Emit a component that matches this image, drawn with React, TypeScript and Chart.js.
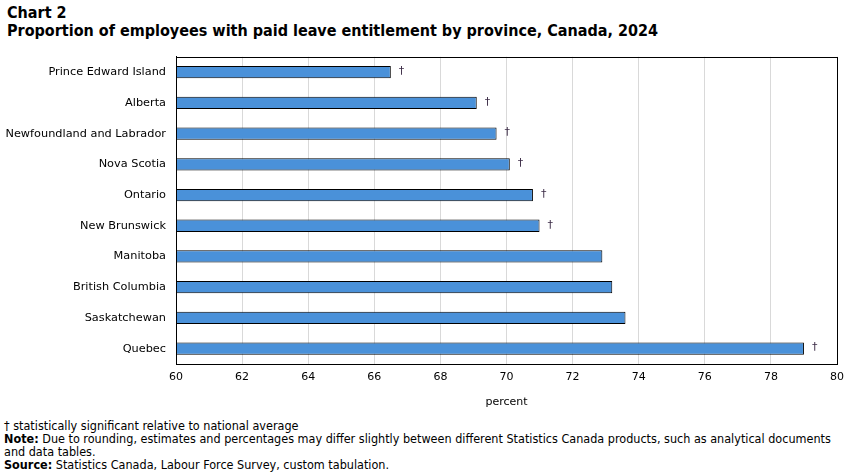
import React, { useEffect, useRef } from "react";
import { Chart, registerables } from "chart.js";

Chart.register(...registerables);

const provinces = [
  "Prince Edward Island",
  "Alberta",
  "Newfoundland and Labrador",
  "Nova Scotia",
  "Ontario",
  "New Brunswick",
  "Manitoba",
  "British Columbia",
  "Saskatchewan",
  "Quebec",
];
const shares = [66.5, 69.1, 69.7, 70.1, 70.8, 71.0, 72.9, 73.2, 73.6, 79.0];
const significant = [true, true, true, true, true, true, false, false, false, true];

const xMin = 60;
const xMax = 80;
const xStep = 2;
const xTitle = "percent";

const labelFont = "'DejaVu Sans', Verdana, sans-serif";
const noteFont = "'DejaVu Sans Condensed', Tahoma, sans-serif";

// Dagger marker after each statistically significant bar, the black frame and the axis title.
const markersPlugin = {
  id: "markers",
  afterDatasetsDraw(chart: any) {
    const { ctx, chartArea } = chart;
    const meta = chart.getDatasetMeta(0);
    ctx.save();
    ctx.font = "11px " + labelFont;
    ctx.fillStyle = "#3a2a45";
    ctx.textAlign = "left";
    ctx.textBaseline = "middle";
    meta.data.forEach((bar: any, i: number) => {
      if (significant[i]) ctx.fillText("\u2020", bar.x + 8, bar.y - 1);
    });
    ctx.fillStyle = "#000";
    ctx.textAlign = "center";
    ctx.textBaseline = "middle";
    ctx.fillText(xTitle, (chartArea.left + chartArea.right) / 2, chartArea.bottom + 38);
    ctx.strokeStyle = "#000";
    ctx.lineWidth = 1;
    ctx.strokeRect(
      Math.round(chartArea.left) + 0.5,
      Math.round(chartArea.top) + 0.5,
      Math.round(chartArea.right - chartArea.left),
      Math.round(chartArea.bottom - chartArea.top)
    );
    ctx.restore();
  },
};

export default function App() {
  const ref = useRef<HTMLCanvasElement>(null);

  useEffect(() => {
    if (!ref.current) return;
    const chart = new Chart(ref.current, {
      type: "bar",
      data: {
        labels: provinces,
        datasets: [
          {
            data: shares,
            backgroundColor: "#4a91d9",
            borderColor: "#000",
            borderWidth: 1,
            barPercentage: 0.4,
            categoryPercentage: 1,
          },
        ],
      },
      options: {
        indexAxis: "y",
        animation: false,
        responsive: false,
        layout: { padding: { top: 7, right: 17, left: 0, bottom: 0 } },
        plugins: { legend: { display: false }, tooltip: { enabled: false } },
        scales: {
          x: {
            min: xMin,
            max: xMax,
            ticks: { stepSize: xStep, color: "#000", font: { family: labelFont, size: 11 }, padding: 7 },
            grid: { color: "#d9d9d9", drawTicks: false },
            border: { color: "#000" },
            afterFit(scale: any) {
              scale.height = 48;
            },
          },
          y: {
            ticks: { color: "#000", font: { family: labelFont, size: 11.3 }, padding: 10 },
            grid: { display: false, drawTicks: false },
            border: { color: "#000" },
            afterFit(scale: any) {
              scale.width = 176;
            },
          },
        },
      },
      plugins: [markersPlugin],
    });
    return () => chart.destroy();
  }, []);

  return (
    <div style={{ position: "absolute", left: 0, top: 0, width: 854, height: 473, background: "#fff", overflow: "hidden" }}>
      <div style={{ position: "absolute", left: 7, top: 4, fontFamily: noteFont, fontWeight: "bold", fontSize: 16, lineHeight: "18px", color: "#000" }}>
        <div>Chart 2</div>
        <div>Proportion of employees with paid leave entitlement by province, Canada, 2024</div>
      </div>
      <canvas ref={ref} width={854} height={372} style={{ position: "absolute", left: 0, top: 40 }} />
      <div style={{ position: "absolute", left: 4, top: 419, width: 835, fontFamily: noteFont, fontSize: 12.5, lineHeight: "13px", color: "#000" }}>
        <div>{"\u2020"} statistically significant relative to national average</div>
        <div>
          <b>Note:</b> Due to rounding, estimates and percentages may differ slightly between different Statistics Canada products, such as analytical documents and data tables.
        </div>
        <div>
          <b>Source:</b> Statistics Canada, Labour Force Survey, custom tabulation.
        </div>
      </div>
    </div>
  );
}
